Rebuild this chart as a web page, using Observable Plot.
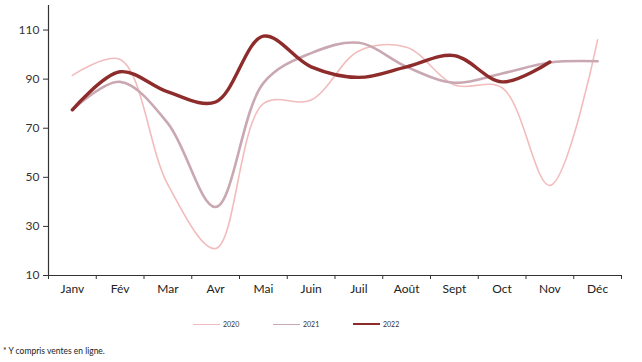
<!DOCTYPE html>
<html><head><meta charset="utf-8">
<script src="https://cdn.jsdelivr.net/npm/d3@7"></script>
<script src="https://cdn.jsdelivr.net/npm/@observablehq/plot@0.6"></script>
<style>
body{margin:0;background:#fff;font-family:Lato,"Liberation Sans",sans-serif;}
#wrap{position:relative;width:642px;height:362px;}
#legend{position:absolute;left:193px;top:320px;display:flex;gap:0;font-size:7px;color:#333;}
.item{display:flex;align-items:center;width:80px;}
.sw{width:27px;height:0;margin-right:3px;}
#note{position:absolute;left:3px;top:346px;font-size:8.5px;color:#222;}
</style></head>
<body><div id="wrap"><div id="chart"></div>
<div id="legend"></div>
<div id="note">* Y compris ventes en ligne.</div></div>
<script>
const months = ["Janv","Fév","Mar","Avr","Mai","Juin","Juil","Août","Sept","Oct","Nov","Déc"];
const v2020 = [91.5, 98, 47, 21, 80, 81.5, 101.5, 103, 87.6, 86.5, 46.7, 106];
const v2021 = [77.5, 88.9, 72, 37.9, 88.4, 100.6, 104.8, 95, 88.5, 92.3, 96.8, 97.3];
const v2022 = [77.5, 93, 84.8, 80.7, 107.5, 95, 90.7, 95, 99.6, 88.9, 97];
const series = ["2020","2021","2022"];
const colors = ["#f2bcbc","#c9a8b2","#8e2c2c"];
const widths = [1.6, 2.6, 3.4];
const yTicks = [10,30,50,70,90,110];

const data = [];
[v2020,v2021,v2022].forEach((arr,s)=>arr.forEach((v,i)=>data.push({series:series[s],i:i+0.5,month:months[i],value:v})));

const marks = [
  Plot.axisY({ticks:yTicks, tickSize:5, tickPadding:4, fontSize:12, color:"#333", label:null}),
  Plot.axisX({ticks:d3.range(0,13), tickFormat:()=>"", tickSize:4, color:"#333", label:null}),
  Plot.axisX({ticks:months.map((m,i)=>i+0.5), tickFormat:d=>months[Math.floor(d)], tickSize:0, tickPadding:9, fontSize:12, color:"#222", label:null}),
  Plot.ruleX([0],{stroke:"#333",strokeWidth:1.2}),
  Plot.ruleY([10],{stroke:"#333",strokeWidth:1.2})
];
series.forEach((s,k)=>{
  marks.push(Plot.line(data.filter(d=>d.series===s),{x:"i",y:"value",stroke:colors[k],strokeWidth:widths[k],curve:"catmull-rom"}));
});

const chart = Plot.plot({
  width:642, height:305,
  marginLeft:48, marginRight:21, marginTop:5, marginBottom:30,
  style:{fontFamily:"Lato, 'Liberation Sans', sans-serif", background:"#fff"},
  x:{domain:[0,12], axis:null, label:null},
  y:{domain:[10,120], axis:null, label:null},
  marks
});
document.getElementById("chart").appendChild(chart);

const lg = document.getElementById("legend");
series.forEach((s,k)=>{
  const it=document.createElement("div");it.className="item";
  const sw=document.createElement("div");sw.className="sw";
  sw.style.borderTop=`${Math.max(1.5,widths[k]-0.8)}px solid ${colors[k]}`;
  const t=document.createElement("span");t.textContent=s;
  it.appendChild(sw);it.appendChild(t);lg.appendChild(it);
});
</script></body></html>
